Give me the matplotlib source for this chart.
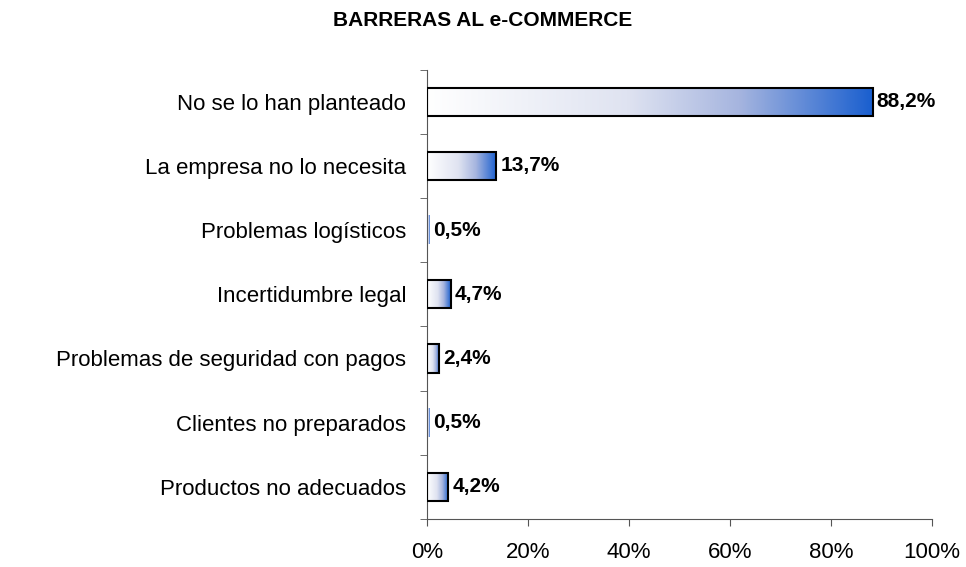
import numpy as np
import matplotlib.pyplot as plt
from matplotlib.colors import LinearSegmentedColormap
from matplotlib.patches import Rectangle

plt.rcParams['font.family'] = ['Liberation Sans', 'DejaVu Sans']

categories = ["No se lo han planteado", "La empresa no lo necesita", "Problemas logísticos",
              "Incertidumbre legal", "Problemas de seguridad con pagos",
              "Clientes no preparados", "Productos no adecuados"]
values = [88.2, 13.7, 0.5, 4.7, 2.4, 0.5, 4.2]
labels = ["88,2%", "13,7%", "0,5%", "4,7%", "2,4%", "0,5%", "4,2%"]
xticks = [0, 20, 40, 60, 80, 100]

grad = LinearSegmentedColormap.from_list(
    "grad", [(0, "#ffffff"), (0.45, "#dfe3f1"), (0.7, "#a6b5df"), (1, "#1a5fcf")])

fig = plt.figure(figsize=(9.66, 5.67), dpi=100)
ax = fig.add_axes([0.442, 0.085, 0.523, 0.792])

n = len(categories)
ypos = np.arange(n)[::-1]
h = 0.44
g = np.linspace(0, 1, 256).reshape(1, -1)
for y, v, lab in zip(ypos, values, labels):
    ax.imshow(g, cmap=grad, aspect='auto', extent=[0, v, y - h / 2, y + h / 2],
              interpolation='bilinear', zorder=2)
    # tiny bars are practically invisible in the original
    lw = 1.5 if v >= 1 else 0
    ax.add_patch(Rectangle((0, y - h / 2), v, h, fill=False, edgecolor='black',
                           linewidth=lw, zorder=3))
    ax.text(v + 0.8, y, lab, va='center', ha='left', fontsize=15, fontweight='bold')

ax.set_xlim(0, 100)
ax.set_ylim(-0.5, n - 0.5)
ax.set_xticks(xticks)
ax.set_xticklabels([f"{t}%" for t in xticks], fontsize=16)
ax.set_yticks(ypos)
ax.set_yticklabels(categories, fontsize=16)
ax.set_yticks(np.arange(-0.5, n, 1), minor=True)
ax.tick_params(axis='y', which='major', length=0, pad=15)
ax.tick_params(axis='y', which='minor', length=5, color='#555555')
ax.tick_params(axis='x', length=5, pad=12, color='#555555')
for s in ['top', 'right']:
    ax.spines[s].set_visible(False)
for s in ['left', 'bottom']:
    ax.spines[s].set_color('#555555')

fig.text(0.5, 0.963, "BARRERAS AL e-COMMERCE", ha='center', va='center',
         fontsize=15, fontweight='bold')

fig.savefig("out.png", dpi=100)
